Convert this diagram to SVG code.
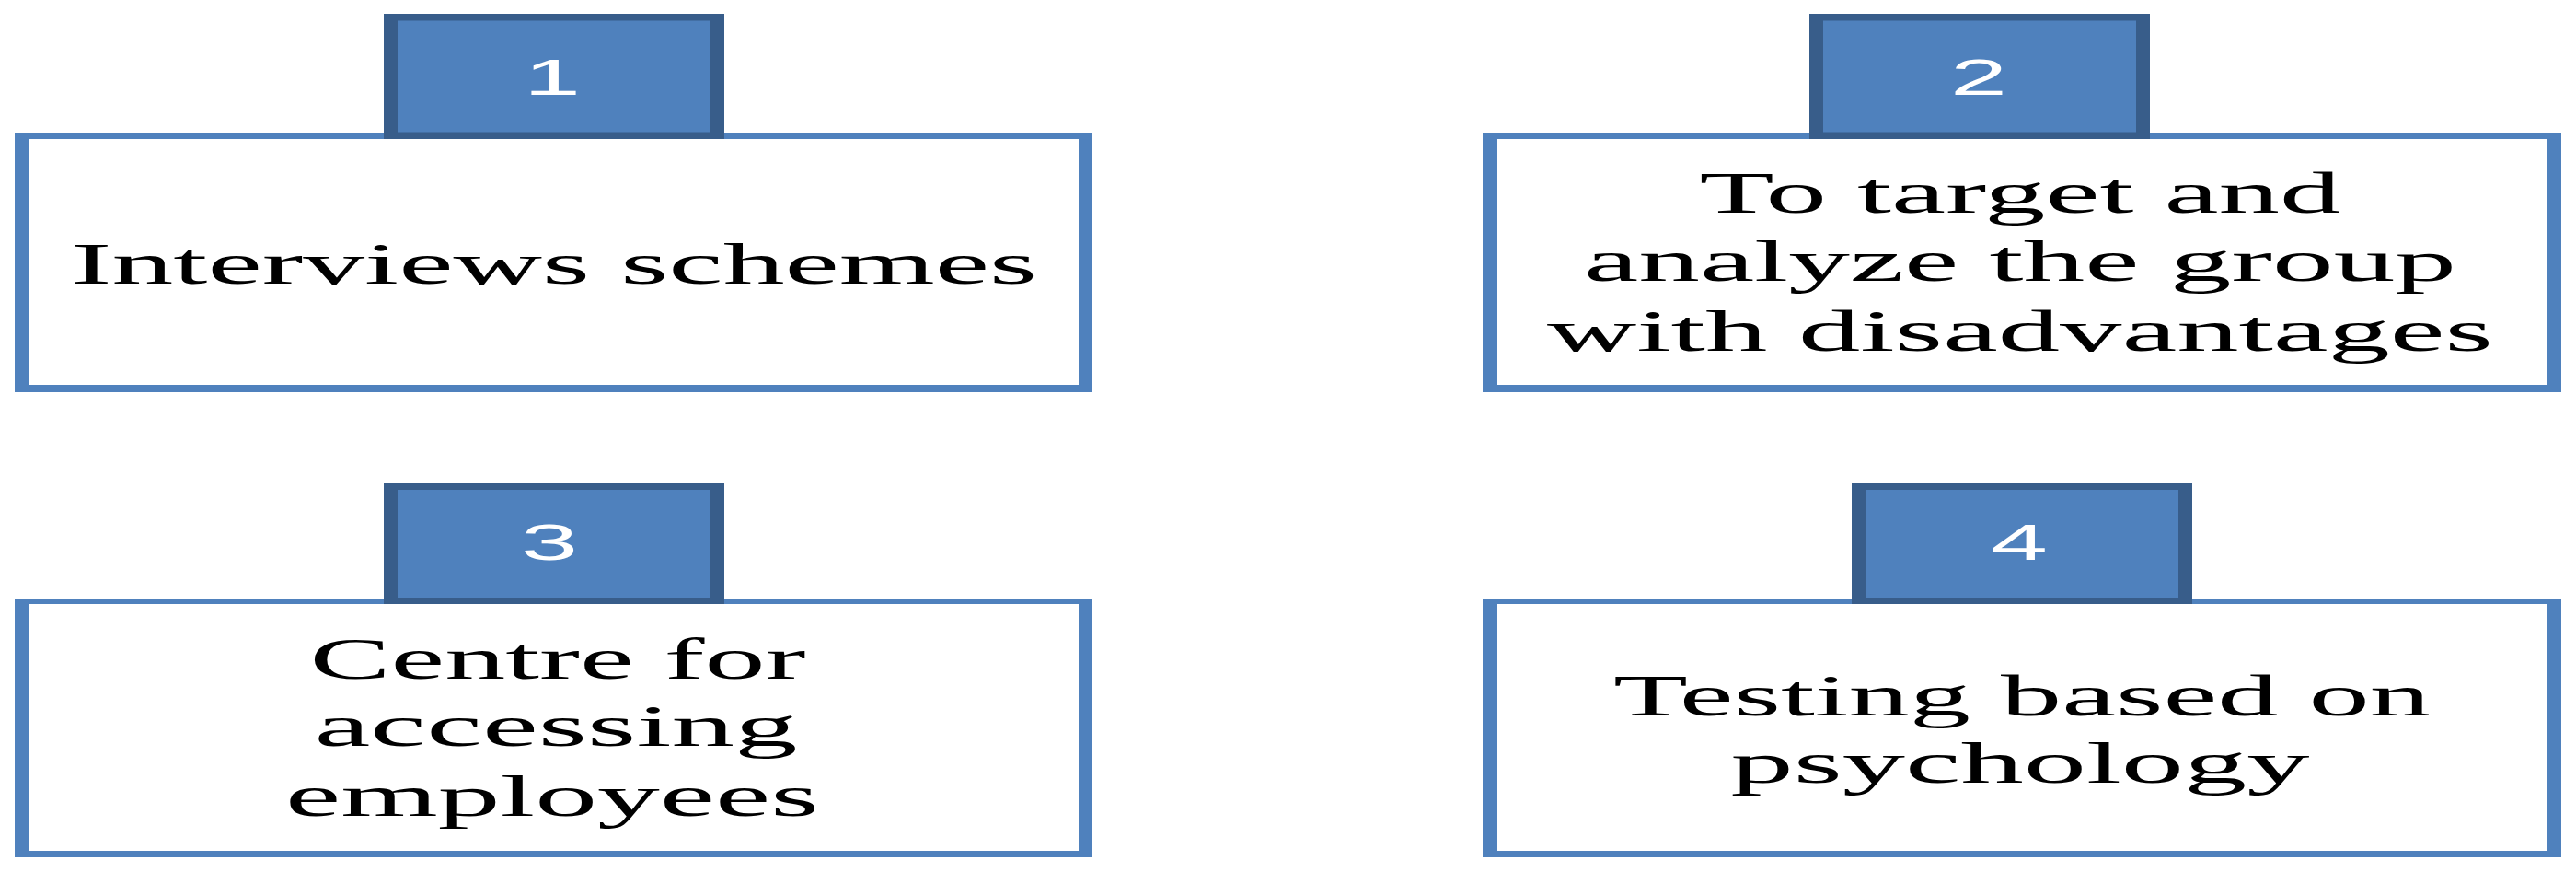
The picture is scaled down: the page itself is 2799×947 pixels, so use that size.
<svg xmlns="http://www.w3.org/2000/svg" width="2799" height="947" viewBox="0 0 2799 947">
<style>
.bo{fill:#4F81BD}
.bi{fill:#FFFFFF}
.to{fill:#385D8A}
.ti{fill:#4F81BD}
.t{font-family:"Liberation Serif","Times New Roman",serif;font-size:64px;fill:#000;text-anchor:middle}
.n{font-family:"Liberation Sans",Arial,sans-serif;font-size:56px;fill:#FFFFFF;text-anchor:middle}
</style>
<rect width="2799" height="947" fill="#FFFFFF"/>
<g id="connectors"></g>
<g id="node1">
<rect class="bo" x="16" y="144" width="1171" height="282"/>
<rect class="bi" x="32" y="151" width="1140" height="267"/>
<text class="t" x="602" y="308" textLength="1050" lengthAdjust="spacingAndGlyphs">Interviews schemes</text>
</g>
<g id="tab1">
<rect class="to" x="417" y="15" width="370" height="136"/>
<rect class="ti" x="432" y="22.5" width="340" height="121"/>
<text class="n" x="600" y="103" textLength="62" lengthAdjust="spacingAndGlyphs">1</text>
</g>
<g id="node2">
<rect class="bo" x="1611" y="144" width="1172" height="282"/>
<rect class="bi" x="1627" y="151" width="1140" height="267"/>
<text class="t" x="2195" y="231" textLength="697" lengthAdjust="spacingAndGlyphs">To target and</text>
<text class="t" x="2195" y="305" textLength="948" lengthAdjust="spacingAndGlyphs">analyze the group</text>
<text class="t" x="2195" y="381" textLength="1028" lengthAdjust="spacingAndGlyphs">with disadvantages</text>
</g>
<g id="tab2">
<rect class="to" x="1966" y="15" width="370" height="136"/>
<rect class="ti" x="1981" y="22.5" width="340" height="121"/>
<text class="n" x="2150" y="103" textLength="62" lengthAdjust="spacingAndGlyphs">2</text>
</g>
<g id="node3">
<rect class="bo" x="16" y="650" width="1171" height="281"/>
<rect class="bi" x="32" y="656" width="1140" height="268"/>
<text class="t" x="606" y="737" textLength="539" lengthAdjust="spacingAndGlyphs">Centre for</text>
<text class="t" x="604" y="810" textLength="525" lengthAdjust="spacingAndGlyphs">accessing</text>
<text class="t" x="600" y="886" textLength="580" lengthAdjust="spacingAndGlyphs">employees</text>
</g>
<g id="tab3">
<rect class="to" x="417" y="525" width="370" height="131"/>
<rect class="ti" x="432" y="532" width="340" height="117"/>
<text class="n" x="597" y="608" textLength="62" lengthAdjust="spacingAndGlyphs">3</text>
</g>
<g id="node4">
<rect class="bo" x="1611" y="650" width="1172" height="281"/>
<rect class="bi" x="1627" y="656" width="1140" height="268"/>
<text class="t" x="2197" y="777" textLength="888" lengthAdjust="spacingAndGlyphs">Testing based on</text>
<text class="t" x="2195" y="850" textLength="629" lengthAdjust="spacingAndGlyphs">psychology</text>
</g>
<g id="tab4">
<rect class="to" x="2012" y="525" width="370" height="131"/>
<rect class="ti" x="2027" y="532" width="340" height="117"/>
<text class="n" x="2194" y="608" textLength="62" lengthAdjust="spacingAndGlyphs">4</text>
</g>
</svg>
